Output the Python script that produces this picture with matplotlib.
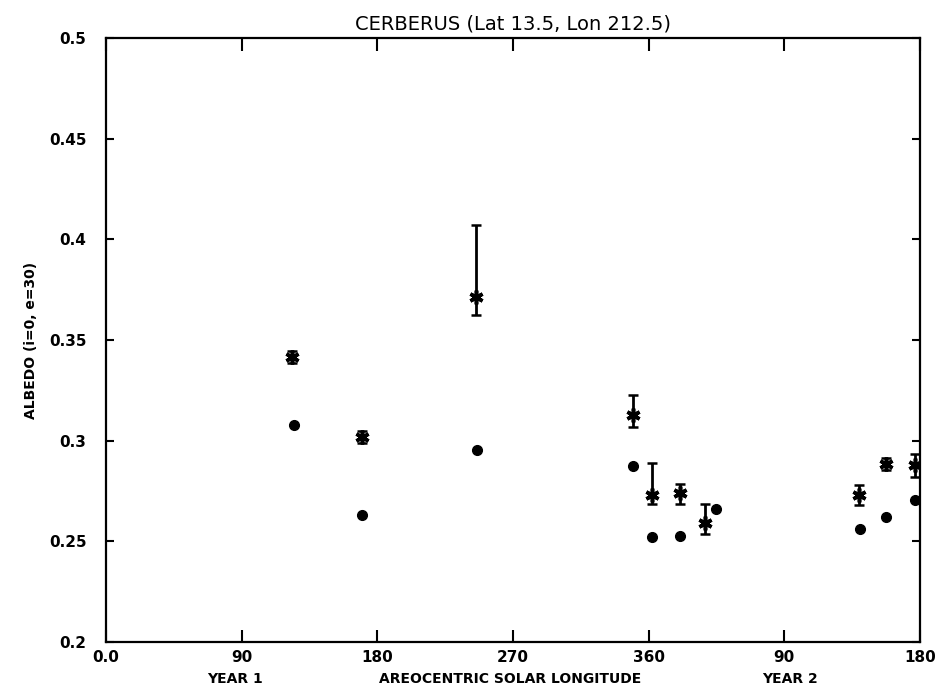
import matplotlib
matplotlib.use('Agg')
import matplotlib.pyplot as plt
import numpy as np

# areocentric solar longitude, running across two Mars years (year 2 starts at 360)
star_ls = [123.7, 169.8, 245.5, 349.3, 361.9, 380.5, 397.7, 499.8, 517.4, 536.8]
star_albedo = [0.3416, 0.302, 0.3714, 0.3126, 0.2729, 0.2739, 0.2589, 0.2729, 0.2886, 0.2878]
star_err_lo = [0.003, 0.003, 0.0091, 0.0058, 0.0045, 0.0055, 0.0054, 0.005, 0.003, 0.0058]
star_err_hi = [0.003, 0.003, 0.0356, 0.0100, 0.0159, 0.0044, 0.0095, 0.0049, 0.003, 0.0058]

dot_ls = [124.4, 170.0, 245.9, 349.3, 361.9, 380.5, 404.8, 500.3, 517.4, 536.8]
dot_albedo = [0.308, 0.263, 0.2952, 0.2873, 0.252, 0.2525, 0.2659, 0.2563, 0.262, 0.2704]

xtick_pos = [0, 90, 180, 270, 360, 450, 540]
xtick_labels = ['0.0', '90', '180', '270', '360', '90', '180']
ytick_pos = [0.2, 0.25, 0.3, 0.35, 0.4, 0.45, 0.5]
ytick_labels = ['0.2', '0.25', '0.3', '0.35', '0.4', '0.45', '0.5']

fig = plt.figure(figsize=(9.43, 6.95), dpi=100)
ax = fig.add_axes([0.1124, 0.0763, 0.8632, 0.869])

ax.errorbar(star_ls, star_albedo, yerr=[star_err_lo, star_err_hi],
            fmt='none', ecolor='black', elinewidth=2.0, capsize=3.8, capthick=1.8)
ax.plot(star_ls, star_albedo, linestyle='none', marker=(6, 2, 0),
        markersize=10, markeredgewidth=2.6, color='black')
ax.plot(dot_ls, dot_albedo, linestyle='none', marker='o',
        markersize=7, color='black')

ax.set_xlim(0, 540)
ax.set_ylim(0.2, 0.5)
ax.set_xticks(xtick_pos)
ax.set_xticklabels(xtick_labels, fontsize=11, fontweight='bold')
ax.set_yticks(ytick_pos)
ax.set_yticklabels(ytick_labels, fontsize=11, fontweight='bold')
ax.tick_params(axis='x', direction='in', length=9, width=1.5, top=True, pad=6)
ax.tick_params(axis='y', direction='in', length=6, width=1.5, right=True, pad=14)
for sp in ax.spines.values():
    sp.set_linewidth(1.6)

ax.set_title('CERBERUS (Lat 13.5, Lon 212.5)', fontsize=14, pad=6)
ax.set_ylabel('ALBEDO (i=0, e=30)', fontsize=10, fontweight='bold', labelpad=8)

fig.text(0.249, 0.017, 'YEAR 1', fontsize=10, fontweight='bold', ha='center')
fig.text(0.541, 0.017, 'AREOCENTRIC SOLAR LONGITUDE', fontsize=10,
         fontweight='bold', ha='center')
fig.text(0.838, 0.017, 'YEAR 2', fontsize=10, fontweight='bold', ha='center')

fig.savefig('out.png', dpi=100)
